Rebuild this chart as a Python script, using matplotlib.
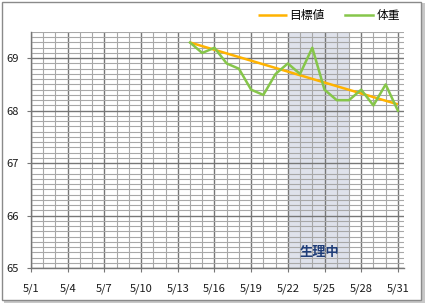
import matplotlib
matplotlib.use("Agg")
import matplotlib.pyplot as plt
from matplotlib.patches import Rectangle
from matplotlib.ticker import MultipleLocator, FixedLocator

plt.rcParams['font.family'] = ['Noto Sans CJK JP', 'DejaVu Sans']

# Data
weight_days = [14, 15, 16, 17, 18, 19, 20, 21, 22, 23, 24, 25, 26, 27, 28, 29, 30, 31]
weight = [69.3, 69.1, 69.2, 68.9, 68.8, 68.4, 68.3, 68.7, 68.9, 68.7, 69.2, 68.4,
          68.2, 68.2, 68.4, 68.1, 68.5, 68.0]
target_days = [14, 31]
target = [69.3, 68.12]
period_start, period_end = 22, 27
period_label = "生理中"
xtick_days = list(range(1, 32, 3))
xtick_labels = [f"5/{d}" for d in xtick_days]
yticks = [65, 66, 67, 68, 69]
legend_labels = ["目標値", "体重"]

W, H = 430, 308
fig = plt.figure(figsize=(W / 100, H / 100), dpi=100)
fig.patch.set_facecolor("white")

# outer frame with shadow
fig.patches.append(Rectangle((4 / W, 1 - 303 / H), 421 / W, 300 / H, transform=fig.transFigure,
                             facecolor="#c8c8c8", edgecolor="none", zorder=-10))
fig.patches.append(Rectangle((2 / W, 1 - 300 / H), 419 / W, 298 / H, transform=fig.transFigure,
                             facecolor="white", edgecolor="#8a8a8a", linewidth=1.0, zorder=-9))

left, right, top, bottom = 31, 404, 32, 268
ax = fig.add_axes([left / W, 1 - bottom / H, (right - left) / W, (bottom - top) / H])
ax.set_zorder(1)
ax.set_facecolor("none")
ax.set_xlim(1, 31.5)
ax.set_ylim(65, 69.5)

# grid
ax.xaxis.set_major_locator(FixedLocator(xtick_days))
ax.xaxis.set_minor_locator(MultipleLocator(1))
ax.yaxis.set_major_locator(FixedLocator(yticks))
ax.yaxis.set_minor_locator(MultipleLocator(0.1))
ax.grid(which="minor", color="#a8a8a8", linewidth=0.8, zorder=1)
ax.grid(which="major", color="#777777", linewidth=1.0, zorder=1)
ax.set_axisbelow(True)

for s in ["top", "right"]:
    ax.spines[s].set_visible(False)
for s in ["left", "bottom"]:
    ax.spines[s].set_color("#777777")
    ax.spines[s].set_linewidth(1.0)

ax.set_xticks(xtick_days)
ax.set_xticklabels(xtick_labels)
ax.set_yticks(yticks)
ax.tick_params(which="major", direction="out", length=3, color="#777777", labelsize=8,
               labelcolor="#1a1a1a")
ax.tick_params(which="minor", length=0)
ax.tick_params(axis="x", pad=8)
ax.tick_params(axis="y", pad=6)

# period shading
ax.axvspan(period_start, period_end, facecolor="#c5cbdc", alpha=0.55, edgecolor="none", zorder=0.5)
ax.text(24.55, 65.3, period_label, ha="center", va="center",
        fontsize=9.5, fontweight="bold", color="#1f3d78", zorder=4)

l1, = ax.plot(target_days, target, color="#FFB300", linewidth=1.8, zorder=3, solid_capstyle="butt")
l2, = ax.plot(weight_days, weight, color="#86C64A", linewidth=1.8, zorder=3)

fig.legend([l1, l2], legend_labels, loc="center", bbox_to_anchor=(329 / W, 1 - 16 / H),
           ncol=2, frameon=False, fontsize=8.5, handlelength=2.4, handletextpad=0.25,
           columnspacing=1.7)

fig.savefig("out.png", dpi=100, facecolor="white")
